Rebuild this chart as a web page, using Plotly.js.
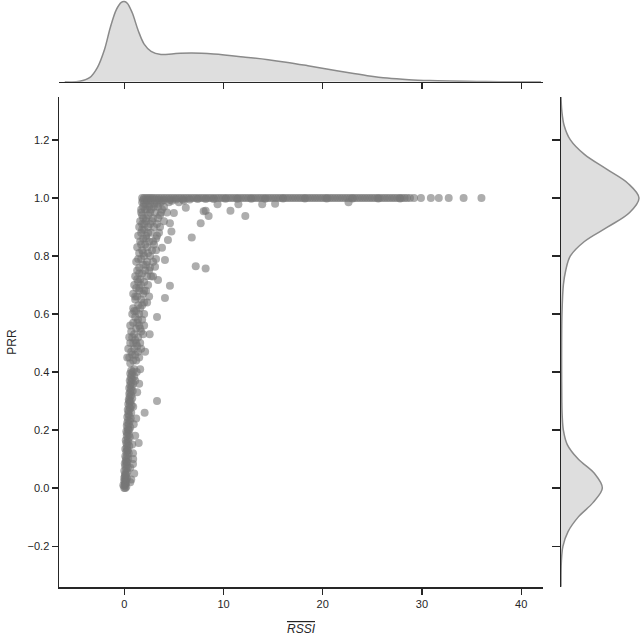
<!DOCTYPE html>
<html>
<head>
<meta charset="utf-8">
<script src="https://cdn.plot.ly/plotly-3.0.1.min.js"></script>
<style>
  html, body { margin: 0; padding: 0; background: #fff; }
  #chart { width: 640px; height: 636px; }
</style>
</head>
<body>
<div id="chart"></div>
<script>
// band of links with PRR at (or very near) 1.0
const bandRssi = [1.8, 2.0, 2.2, 2.4, 2.6, 2.8, 3.0, 3.25, 3.5, 3.75, 4.0, 4.25, 4.5, 4.75, 5.0, 5.25, 5.5, 5.75, 6.0, 6.25,
  6.5, 6.75, 7.0, 7.25, 7.5, 7.75, 8.0, 8.25, 8.5, 8.75, 9.0, 9.25, 9.5, 9.75, 10.0, 10.25, 10.5, 10.75, 11.0, 11.25,
  11.5, 11.75, 12.0, 12.25, 12.5, 12.75, 13.0, 13.25, 13.5, 13.75, 14.0, 14.25, 14.5, 14.75, 15.0, 15.25, 15.5, 15.75, 16.0, 16.25,
  16.5, 16.75, 17.0, 17.25, 17.5, 17.75, 18.0, 18.25, 18.5, 18.75, 19.0, 19.25, 19.5, 19.75, 20.0, 20.25, 20.5, 20.75, 21.0, 21.25,
  21.5, 21.75, 22.0, 22.25, 22.5, 22.75, 23.0, 23.25, 23.5, 23.75, 24.0, 24.25, 24.5, 24.75, 25.0, 25.25, 25.5, 25.75, 26.0, 26.25,
  26.5, 26.75, 27.0, 27.25, 27.5, 27.75, 28.0, 28.25, 28.5, 28.8, 29.2, 29.9, 30.9, 31.7, 32.7, 34.2, 36.0,
  1.9, 2.3, 2.7, 3.1, 3.5, 4.0, 4.6, 5.2, 5.9, 6.6, 7.4, 8.2, 9.0, 10.2, 11.4, 12.8, 14.2, 16.0, 18.2, 20.4, 23.0, 25.6, 27.8];
const bandPrr = [1, 1, 1, 1, 1, 1, 1, 1, 1, 1, 1, 1, 1, 1, 1, 1, 1, 1, 1, 1,
  1, 1, 1, 1, 1, 1, 1, 1, 1, 1, 1, 1, 1, 1, 1, 1, 1, 1, 1, 1,
  1, 1, 1, 1, 1, 1, 1, 1, 1, 1, 1, 1, 1, 1, 1, 1, 1, 1, 1, 1,
  1, 1, 1, 1, 1, 1, 1, 1, 1, 1, 1, 1, 1, 1, 1, 1, 1, 1, 1, 1,
  1, 1, 1, 1, 1, 1, 1, 1, 1, 1, 1, 1, 1, 1, 1, 1, 1, 1, 1, 1,
  1, 1, 1, 1, 1, 1, 1, 1, 1, 1, 1, 1, 1, 1, 1, 1, 1,
  0.993, 0.993, 0.992, 0.994, 0.993, 0.993, 0.994, 0.995, 0.995, 0.995, 0.996, 0.996, 0.996, 0.997, 0.997, 0.997, 0.997, 0.998, 0.998, 0.998, 0.998, 0.998, 0.998];

// low-RSSI column, PRR 0 to 0.4
const lowRssi = [0.0, 0.1, 0.2, -0.1, 0.1, 0.2, 0.0, 0.15, 0.3, 0.05, 0.2, 0.1, 0.3, 0.0, 0.2, 0.35, 0.1, 0.25, 0.05, 0.3,
  0.15, 0.4, 0.2, 0.1, 0.3, 0.45, 0.2, 0.35, 0.1, 0.25, 0.5, 0.3, 0.2, 0.4, 0.15, 0.35, 0.55, 0.25, 0.45, 0.3,
  0.2, 0.5, 0.35, 0.6, 0.25, 0.45, 0.3, 0.55, 0.4, 0.65, 0.3, 0.5, 0.4, 0.7, 0.45, 0.35, 0.6, 0.5, 0.75, 0.4,
  0.55, 0.65, 0.45, 0.8, 0.55, 0.7, 0.5, 0.6, 0.85, 0.65, 0.5, 0.75, 0.6, 0.9, 0.7, 0.55, 0.8, 0.65, 1.0, 0.75,
  0.6, 0.85, 0.7, 1.0, 0.0, 0.1, 0.05, 0.15, 0.0, 0.1,
  0.88, 0.88, 1.45, 2.05, 3.3, 1.5, 1.6, 1.0, 0.7,
  0.6, 0.9, 1.1, 1.2, 0.9, 1.3, 1.1, 0.2, 0.4, 0.5, 0.3, 1.25, 0.95, 0.8, 0.6];
const lowPrr = [0.0, 0.0, 0.005, 0.01, 0.015, 0.02, 0.025, 0.03, 0.035, 0.04, 0.045, 0.05, 0.055, 0.06, 0.065, 0.07, 0.075, 0.08, 0.085, 0.09,
  0.095, 0.1, 0.105, 0.11, 0.115, 0.12, 0.125, 0.13, 0.135, 0.14, 0.145, 0.15, 0.155, 0.16, 0.165, 0.17, 0.175, 0.18, 0.185, 0.19,
  0.195, 0.2, 0.205, 0.21, 0.215, 0.22, 0.225, 0.23, 0.235, 0.24, 0.245, 0.25, 0.255, 0.26, 0.265, 0.27, 0.275, 0.28, 0.285, 0.29,
  0.295, 0.3, 0.305, 0.31, 0.315, 0.32, 0.325, 0.33, 0.335, 0.34, 0.345, 0.35, 0.355, 0.36, 0.365, 0.37, 0.375, 0.38, 0.385, 0.39,
  0.395, 0.4, 0.405, 0.41, 0.008, 0.012, 0.02, 0.028, 0.035, 0.045,
  0.083, 0.12, 0.155, 0.26, 0.30, 0.36, 0.41, 0.05, 0.03,
  0.02, 0.1, 0.18, 0.24, 0.28, 0.33, 0.37, 0.09, 0.2, 0.3, 0.13, 0.4, 0.22, 0.15, 0.07];

// transitional region, PRR 0.43 to 0.99
const midRssi = [0.6, 0.9, 1.2, 0.5, 0.8, 1.1, 1.4, 0.7, 1.0, 0.4, 1.3, 0.9, 1.6, 0.6, 2.1, 2.56,
  1.1, 0.8, 1.4, 1.0, 1.7, 0.7, 1.2, 1.5, 0.9, 1.3, 1.8, 1.1, 0.8, 1.5, 3.3, 2.0,
  1.2, 1.6, 0.9, 1.4, 2.0, 1.1, 1.7, 1.3, 0.9, 1.9, 1.5, 2.2, 1.2, 1.7, 1.0, 4.1, 4.6, 2.5,
  1.4, 2.0, 1.6, 1.1, 2.3, 1.8, 1.3, 2.1, 1.5, 2.6, 1.9, 1.2, 2.3, 1.7, 2.0, 2.9, 3.4, 3.1, 3.2, 4.1, 7.2, 8.2,
  1.5, 2.4, 1.8, 2.8, 1.3, 2.1, 3.0, 1.6, 2.5, 1.9, 3.2, 1.4, 2.2, 2.7, 1.7, 3.5, 2.0, 1.5, 2.4, 3.0, 3.8, 4.4, 4.75, 6.8,
  1.8, 2.6, 3.3, 1.6, 2.2, 4.0, 2.9, 1.9, 3.6, 2.4, 1.7, 3.1, 4.3, 2.1, 2.7, 3.8, 1.9, 2.5, 3.4,
  4.6, 5.0, 6.2, 7.7, 8.2, 8.5, 8.0, 10.7, 12.2, 9.4, 11.5, 13.9, 15.2, 22.6, 2.2, 3.0, 3.7, 1.8, 4.5, 5.5,
  1.5, 0.3, 1.7, 1.2, 0.5, 1.9, 1.6, 0.6, 1.4, 2.0, 1.0, 1.8, 2.3, 1.1, 2.0, 1.5, 2.4, 1.3, 2.7, 1.5,
  2.5, 2.2, 2.9, 1.4, 2.6, 1.9, 3.2, 2.3, 1.7, 2.9, 2.2, 3.3, 2.4, 1.8, 3.6, 2.0, 2.8, 3.4, 2.2, 1.8,
  2.6, 3.7, 2.3, 1.7, 3.0, 4.0, 2.0, 2.6, 3.3, 2.4, 3.8, 4.8, 6.0];
const midPrr = [0.43, 0.44, 0.44, 0.45, 0.46, 0.46, 0.47, 0.47, 0.48, 0.48, 0.49, 0.5, 0.5, 0.5, 0.47, 0.53,
  0.51, 0.52, 0.52, 0.53, 0.54, 0.54, 0.55, 0.56, 0.57, 0.57, 0.58, 0.59, 0.6, 0.6, 0.59, 0.56,
  0.61, 0.62, 0.62, 0.63, 0.64, 0.65, 0.65, 0.66, 0.67, 0.67, 0.68, 0.68, 0.69, 0.7, 0.7, 0.655, 0.697, 0.66,
  0.71, 0.71, 0.72, 0.73, 0.73, 0.74, 0.75, 0.75, 0.76, 0.76, 0.77, 0.78, 0.78, 0.79, 0.8, 0.729, 0.717, 0.763, 0.79, 0.786, 0.765, 0.757,
  0.81, 0.81, 0.82, 0.82, 0.83, 0.84, 0.84, 0.85, 0.85, 0.86, 0.86, 0.87, 0.87, 0.88, 0.88, 0.88, 0.89, 0.9, 0.9, 0.9, 0.828, 0.855, 0.884, 0.864,
  0.91, 0.91, 0.91, 0.92, 0.92, 0.92, 0.93, 0.93, 0.94, 0.94, 0.95, 0.95, 0.95, 0.96, 0.96, 0.96, 0.97, 0.97, 0.97,
  0.913, 0.948, 0.966, 0.913, 0.956, 0.938, 0.954, 0.956, 0.938, 0.978, 0.978, 0.978, 0.98, 0.985, 0.98, 0.98, 0.985, 0.985, 0.985, 0.985,
  0.45, 0.45, 0.48, 0.5, 0.52, 0.53, 0.55, 0.56, 0.58, 0.6, 0.61, 0.63, 0.64, 0.66, 0.68, 0.69, 0.7, 0.72, 0.73, 0.74,
  0.75, 0.77, 0.78, 0.79, 0.8, 0.81, 0.82, 0.83, 0.84, 0.85, 0.86, 0.87, 0.88, 0.89, 0.9, 0.91, 0.92, 0.93, 0.93, 0.94,
  0.95, 0.95, 0.96, 0.96, 0.97, 0.97, 0.98, 0.98, 0.98, 0.99, 0.99, 0.99, 0.99];

// marginal density of RSSI (top panel)
const rssiGrid = [-6, -4.5, -3.5, -2.7, -2.0, -1.4, -0.8, -0.3, 0.0, 0.3, 0.8, 1.4, 2.0, 2.7, 3.7, 5.0, 6.8, 9.0, 12.2, 14.5,
  16.3, 18.5, 20.4, 22.5, 24.5, 26.5, 28.7, 30.8, 32.8, 35.5, 38.0, 42.0];
const rssiDensity = [0, 0.005, 0.05, 0.18, 0.4, 0.68, 0.9, 0.99, 1.0, 0.98, 0.86, 0.64, 0.47, 0.38, 0.34, 0.35, 0.357, 0.345, 0.307, 0.275,
  0.244, 0.2, 0.16, 0.115, 0.076, 0.045, 0.025, 0.014, 0.008, 0.003, 0.001, 0];

// marginal density of PRR (right panel)
const prrGrid = [-0.34, -0.25, -0.2, -0.15, -0.1, -0.05, 0.0, 0.05, 0.1, 0.15, 0.2, 0.25, 0.3, 0.4, 0.5, 0.6, 0.7, 0.75, 0.8, 0.85,
  0.9, 0.95, 1.0, 1.05, 1.1, 1.15, 1.2, 1.25, 1.3, 1.35];
const prrDensity = [0, 0.005, 0.025, 0.09, 0.22, 0.41, 0.53, 0.43, 0.22, 0.08, 0.03, 0.015, 0.01, 0.008, 0.008, 0.012, 0.03, 0.06, 0.12, 0.3,
  0.6, 0.88, 1.0, 0.86, 0.58, 0.3, 0.12, 0.04, 0.01, 0];

const xTicks = [0, 10, 20, 30, 40];
const yTicks = [-0.2, 0, 0.2, 0.4, 0.6, 0.8, 1.0, 1.2];

const ink = '#262626';
const font = { family: 'Liberation Sans, Arial, sans-serif', size: 11, color: ink };

const data = [
  {
    x: lowRssi.concat(midRssi, bandRssi),
    y: lowPrr.concat(midPrr, bandPrr),
    type: 'scatter',
    mode: 'markers',
    marker: { size: 8, color: 'rgba(118,118,118,0.6)', line: { width: 0 } },
    xaxis: 'x', yaxis: 'y',
    hoverinfo: 'x+y'
  },
  {
    x: rssiGrid,
    y: rssiDensity,
    type: 'scatter',
    mode: 'lines',
    line: { color: '#8a8a8a', width: 1.5, shape: 'spline', smoothing: 1 },
    fill: 'tozeroy',
    fillcolor: '#dedede',
    xaxis: 'x2', yaxis: 'y2'
  },
  {
    x: prrDensity,
    y: prrGrid,
    type: 'scatter',
    mode: 'lines',
    line: { color: '#8a8a8a', width: 1.5, shape: 'spline', smoothing: 1 },
    fill: 'tozerox',
    fillcolor: '#dedede',
    xaxis: 'x3', yaxis: 'y3'
  }
];

const spine = {
  showline: true, linecolor: ink, linewidth: 1.5,
  ticks: 'outside', ticklen: 6, tickwidth: 1.2, tickcolor: ink,
  showgrid: false, zeroline: false
};

const layout = {
  width: 640,
  height: 636,
  margin: { l: 0, r: 0, t: 0, b: 0 },
  paper_bgcolor: '#fff',
  plot_bgcolor: 'rgba(0,0,0,0)',
  showlegend: false,
  font: font,
  xaxis: Object.assign({}, spine, {
    domain: [0.0922, 0.8484],
    range: [-6.58, 42.2],
    tickvals: xTicks,
    ticktext: xTicks.map(String),
    anchor: 'y',
    title: { text: '<span style="text-decoration:overline"><i>RSSI</i></span>', font: { size: 12, color: ink }, standoff: 16 }
  }),
  yaxis: Object.assign({}, spine, {
    domain: [0.077, 0.8475],
    range: [-0.341, 1.348],
    tickvals: yTicks,
    ticktext: yTicks.map(v => v.toFixed(1).replace('-', '\u2212')),
    anchor: 'x',
    title: { text: 'PRR', font: { size: 12, color: ink }, standoff: 8 }
  }),
  xaxis2: Object.assign({}, spine, {
    domain: [0.0922, 0.8484],
    matches: 'x',
    tickvals: xTicks,
    showticklabels: false,
    anchor: 'y2'
  }),
  yaxis2: {
    domain: [0.8715, 1.0],
    range: [0, 1.02],
    visible: false,
    anchor: 'x2'
  },
  xaxis3: {
    domain: [0.8766, 1.0],
    range: [0, 1.013],
    visible: false,
    anchor: 'y3'
  },
  yaxis3: Object.assign({}, spine, {
    domain: [0.077, 0.8475],
    matches: 'y',
    tickvals: yTicks,
    showticklabels: false,
    ticklen: 8,
    anchor: 'x3'
  })
};

Plotly.newPlot('chart', data, layout, { displayModeBar: false, staticPlot: true });
</script>
</body>
</html>
